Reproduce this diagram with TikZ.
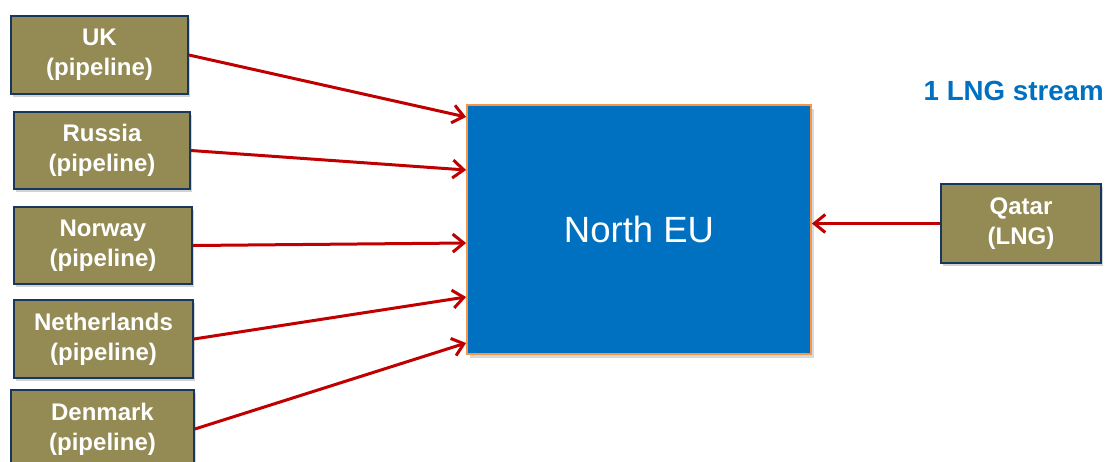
\documentclass[tikz,border=0pt]{standalone}
\usepackage{fontspec}
\setmainfont{Liberation Sans}
\usetikzlibrary{arrows.meta,shadows}
\definecolor{olivebox}{HTML}{948A54}
\definecolor{navyline}{HTML}{17375E}
\definecolor{eublue}{HTML}{0070C0}
\definecolor{euorange}{HTML}{F79646}
\definecolor{arrowred}{HTML}{C00000}
\begin{document}
\begin{tikzpicture}[x=1pt,y=-1pt,
  srcbox/.style={draw=navyline, line width=1.8pt, fill=olivebox, text=white,
    font=\fontsize{24}{30}\selectfont\bfseries, align=center, inner sep=0pt,
    drop shadow={shadow xshift=2pt, shadow yshift=-3pt, opacity=0.35}},
  hubbox/.style={draw=euorange, line width=1.8pt, fill=eublue, text=white,
    font=\fontsize{36.5}{40}\selectfont, inner sep=0pt,
    drop shadow={shadow xshift=3pt, shadow yshift=-4pt, opacity=0.3}},
  flow/.style={draw=arrowred, line width=3pt, -{Straight Barb[length=11pt,width=18pt,line width=3pt]}}
]
\useasboundingbox (0,0) rectangle (1110,461);
\node[hubbox, minimum width=344pt, minimum height=249pt] (neu) at (639,229.5) {North EU};
\node[srcbox, minimum width=177pt, minimum height=78pt] (uk) at (99.5,55) {UK\\(pipeline)};
\node[srcbox, minimum width=176pt, minimum height=77pt] (ru) at (102,150.5) {Russia\\(pipeline)};
\node[srcbox, minimum width=178pt, minimum height=77pt] (no) at (103,245.5) {Norway\\(pipeline)};
\node[srcbox, minimum width=179pt, minimum height=78pt] (nl) at (103.5,339) {Netherlands\\(pipeline)};
\node[srcbox, minimum width=183pt, minimum height=78pt] (dk) at (102.5,429) {Denmark\\(pipeline)};
\node[srcbox, minimum width=160pt, minimum height=79pt] (qa) at (1021,223.5) {Qatar\\(LNG)};
\node[text=eublue, font=\fontsize{27.7}{32}\selectfont\bfseries, anchor=base east, inner sep=0pt] (lng) at (1104,100) {1 LNG stream};
\draw[flow] (uk.east) -- ([yshift=112.5pt]neu.west);
\draw[flow] (ru.east) -- ([yshift=59.5pt]neu.west);
\draw[flow] (no.east) -- ([yshift=-13.5pt]neu.west);
\draw[flow] (nl.east) -- ([yshift=-67.5pt]neu.west);
\draw[flow] (dk.east) -- ([yshift=-113.5pt]neu.west);
\draw[flow] (qa.west) -- (qa.west -| neu.east);
\end{tikzpicture}
\end{document}
